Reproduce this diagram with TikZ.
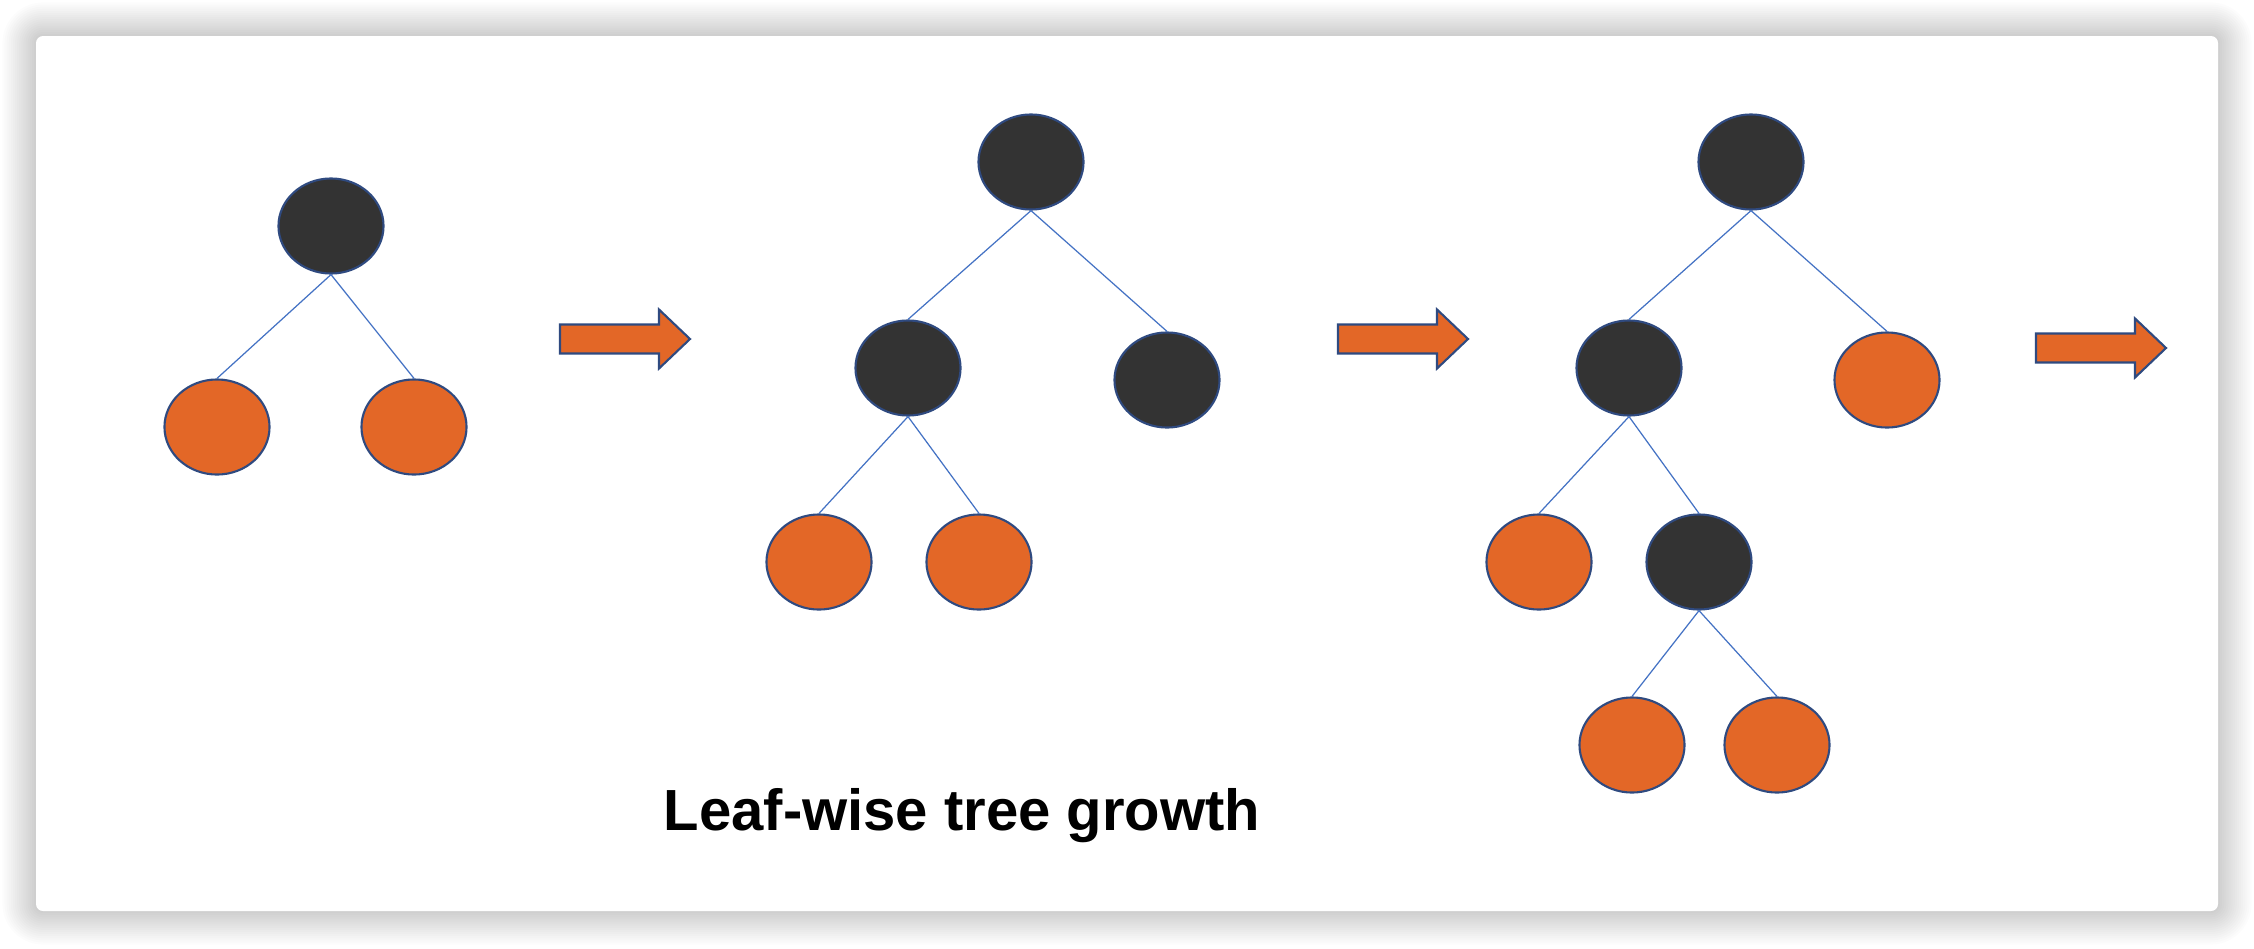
\documentclass[tikz,border=0pt]{standalone}
\usepackage{fontspec}
\setmainfont{Liberation Sans}
\usepackage{tikz}
\usetikzlibrary{shapes.geometric}
\definecolor{nodedark}{HTML}{333333}
\definecolor{leaforange}{HTML}{E36727}
\definecolor{rimblue}{HTML}{2F4A80}
\definecolor{edgeblue}{HTML}{4472C4}
\tikzset{
	splitnode/.style={ellipse, draw=rimblue, line width=0.6pt, fill=nodedark, minimum width=1.05cm, minimum height=0.95cm, inner sep=0pt},
	leafnode/.style={splitnode, fill=leaforange},
	branch/.style={draw=edgeblue, line width=0.35pt}
}
\newcommand{\drawgrowarrow}[2]{
	\draw[rimblue, line width=0.6pt, fill=leaforange] (#1,#2-14.5) -- ++(99,0) -- ++(0,-15) -- ++(31,29.5) -- ++(-31,29.5) -- ++(0,-15) -- ++(-99,0) -- cycle;
}
\newcommand{\drawpanel}{
	\foreach \d in {1,2,...,16} {
		\fill[black, opacity=0.013, rounded corners={2pt+0.6pt*\d}] (36-2.1*\d,36-2.1*\d) rectangle (2218+2.1*\d,911+2.1*\d);
	}
	\fill[white, rounded corners=2pt] (36,36) rectangle (2218,911);
}

\begin{document}
\begin{tikzpicture}[x=0.01cm,y=-0.01cm]
	\useasboundingbox[fill=white] (0,0) rectangle (2254,948);
	\drawpanel
	
	% first tree
	\node[splitnode] (a0) at (331,226) {};
	\node[leafnode] (a1) at (217,427) {};
	\node[leafnode] (a2) at (414,427) {};
	
	% second tree
	\node[splitnode] (b0) at (1031,162) {};
	\node[splitnode] (b1) at (908,368) {};
	\node[splitnode] (b2) at (1167,380) {};
	\node[leafnode] (b3) at (819,562) {};
	\node[leafnode] (b4) at (979,562) {};
	
	% third tree
	\node[splitnode] (c0) at (1751,162) {};
	\node[splitnode] (c1) at (1629,368) {};
	\node[leafnode] (c2) at (1887,380) {};
	\node[leafnode] (c3) at (1539,562) {};
	\node[splitnode] (c4) at (1699,562) {};
	\node[leafnode] (c5) at (1632,745) {};
	\node[leafnode] (c6) at (1777,745) {};
	
	\foreach \p/\q in {a0/a1,a0/a2,b0/b1,b0/b2,b1/b3,b1/b4,c0/c1,c0/c2,c1/c3,c1/c4,c4/c5,c4/c6} {
		\draw[branch] (\p.south) -- (\q.north);
	}
	
	\drawgrowarrow{560}{339}
	\drawgrowarrow{1338}{339}
	\drawgrowarrow{2036}{348}
	
	\node[anchor=base, font=\bfseries\fontsize{16.5}{20}\selectfont] (caption) at (962,830) {Leaf-wise tree growth};
\end{tikzpicture}
\end{document}
